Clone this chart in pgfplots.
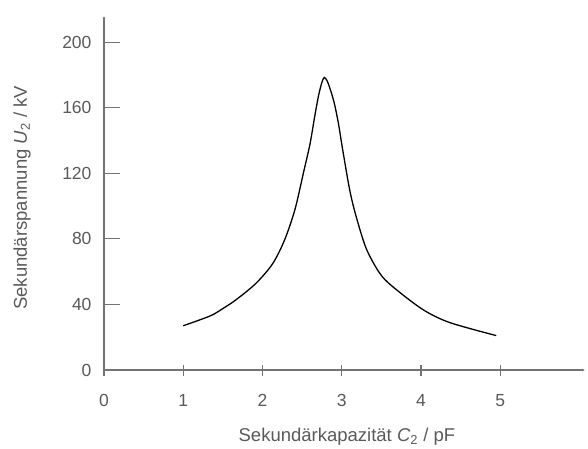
\documentclass[border=0pt]{standalone}
\usepackage{fontspec}
\setmainfont{Liberation Sans}
\usepackage{pgfplots}
\pgfplotsset{compat=1.18}
\usetikzlibrary{arrows.meta}
\definecolor{axgray}{RGB}{115,115,115}
\definecolor{txtgray}{RGB}{90,90,90}

\begin{document}
\begin{tikzpicture}
\begin{axis}[
  scale only axis, width=481pt, height=354pt,
  at={(0,0)}, anchor=origin,
  xmin=0, xmax=6.07, ymin=0, ymax=216,
  axis lines=left,
  axis line style={axgray, line width=1.3pt, -{Latex[length=3pt,width=3pt]}},
  xtick={0,1,2,3,4,5}, ytick={0,40,80,120,160,200},
  tick style={axgray, line width=1.2pt},
  xtick style={/pgfplots/major tick length=11pt},
  ytick style={/pgfplots/major tick length=16pt},
  xtick align=center, ytick align=inside,
  xticklabel style={anchor=center, yshift=-28pt, txtgray, font=\fontsize{17.5}{20}\selectfont},
  yticklabel style={anchor=east, xshift=-9pt, txtgray, font=\fontsize{17.5}{20}\selectfont},
  /pgf/number format/assume math mode=true,
  xlabel={Sekundärkapazität \textit{C}\textsubscript{2} / pF},
  ylabel={Sekundärspannung \textit{U}\textsubscript{2} / kV},
  xlabel style={at={(axis description cs:0.505,0)}, anchor=center, yshift=-67pt, txtgray, font=\fontsize{18.5}{21}\selectfont},
  ylabel style={at={(axis description cs:-0.1705,0.486)}, anchor=center, txtgray, font=\fontsize{18.5}{21}\selectfont},
  clip=false,
]
\addplot[black, line width=1.3pt, smooth, tension=0.5] coordinates {
  (1.00,27) (1.34,33) (1.50,37.5) (1.67,43) (1.92,53) (2.13,65) (2.28,79.5)
  (2.41,98) (2.52,121) (2.60,138) (2.66,155) (2.71,168) (2.75,175.5) (2.78,178.5)
  (2.82,176) (2.87,169) (2.91,162) (2.96,150) (3.01,135) (3.10,110) (3.18,94)
  (3.31,74) (3.48,59) (3.64,51) (4.02,37) (4.36,29) (4.95,21)
};
\end{axis}
\path[use as bounding box] (-104pt,-78pt) rectangle (484pt,370pt);
\end{tikzpicture}
\end{document}
